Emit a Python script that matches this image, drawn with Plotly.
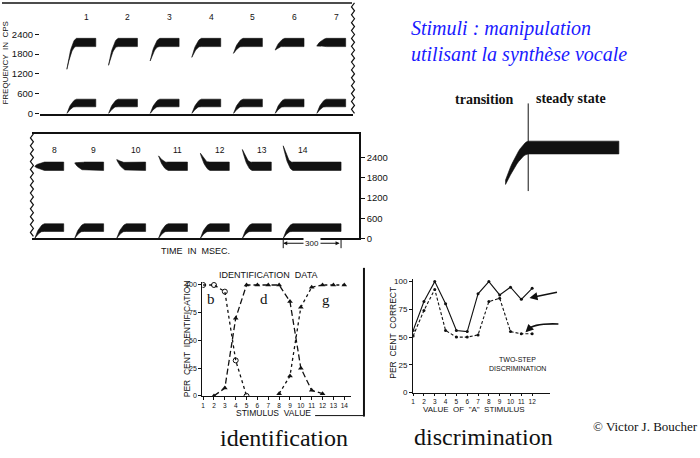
import plotly.graph_objects as go

W, H = 700, 458
INK = "#111111"


def PX(x):
    return x / W


def PY(y):
    return 1 - y / H


# ---------------- data ----------------
stim_numbers_top = [1, 2, 3, 4, 5, 6, 7]
stim_numbers_bottom = [8, 9, 10, 11, 12, 13, 14]
f2_onset_top_hz = [1340, 1460, 1590, 1700, 1820, 1920, 2040]
f2_onset_bottom_hz = [2150, 2250, 2350, 2460, 2540, 2650, 2760]
f2_steady_hz = 2150
f1_onset_hz = 0
f1_steady_hz = 320
onset_top_ms = [140, 356, 572, 788, 1004, 1220, 1436]
onset_bottom_ms = [15, 222, 440, 657, 874, 1092, 1304]
duration_top_ms = [150, 150, 150, 150, 150, 150, 150]
duration_bottom_ms = [150, 150, 150, 150, 150, 150, 300]
transition_ms = 50
freq_ticks = [0, 600, 1200, 1800, 2400]
freq_ticktext = ["0", "600", "1200", "1800", "2400"]

# schematic (transition / steady state)
schem_onset_hz = 1350
schem_steady_hz = 2150
schem_transition_ms = 50
schem_duration_ms = 250

# identification
ident_stimulus = [1, 2, 3, 4, 5, 6, 7, 8, 9, 10, 11, 12, 13, 14]
ident_b = [100, 100, 94, 32, 0, None, None, None, None, None, None, None, None, None]
ident_d = [None, 0, 7, 70, 100, 100, 100, 100, 85, 25, 5, 2, None, None]
ident_g = [None, None, None, None, None, None, None, 2, 18, 80, 98, 100, 100, 100]
pct_ticks = [0, 25, 50, 75, 100]

# discrimination
disc_a_stimulus = [1, 2, 3, 4, 5, 6, 7, 8, 9, 10, 11, 12]
disc_obtained = [56, 82, 100, 80, 56, 55, 89, 100, 88, 95, 84, 94]
disc_predicted = [51, 74, 93, 56, 50, 50, 52, 82, 85, 55, 53, 53]

# styling sizes (not data)
F2_HALF = 125
F1_HALF = 115


def band(t0, dur, f_on, f_ss, hw, T, tmin=0.0, pw=2.0, n=14):
    ts, up, lo = [], [], []
    for i in range(n + 1):
        s = i / n
        c = f_ss + (f_on - f_ss) * (1 - s) ** pw
        w = hw * (tmin + (1 - tmin) * s ** 0.6)
        ts.append(t0 + s * T)
        up.append(c + w)
        lo.append(c - w)
    xs = ts + [t0 + dur, t0 + dur] + ts[::-1] + [ts[0]]
    ys = up + [f_ss + hw, f_ss - hw] + lo[::-1] + [up[0]]
    return xs, ys


fig = go.Figure()


def add_poly(xs, ys, xa, ya):
    fig.add_trace(go.Scatter(x=xs, y=ys, mode="lines", fill="toself", fillcolor=INK,
                             line=dict(color=INK, width=0.6), xaxis=xa, yaxis=ya,
                             hoverinfo="skip", showlegend=False))


for t0, d, f2 in zip(onset_top_ms, duration_top_ms, f2_onset_top_hz):
    add_poly(*band(t0, d, f2, f2_steady_hz, F2_HALF, transition_ms), "x", "y")
    add_poly(*band(t0, d, f1_onset_hz, f1_steady_hz, F1_HALF, transition_ms), "x", "y")

for t0, d, f2 in zip(onset_bottom_ms, duration_bottom_ms, f2_onset_bottom_hz):
    add_poly(*band(t0, d, f2, f2_steady_hz, F2_HALF, transition_ms), "x2", "y2")
    add_poly(*band(t0, d, f1_onset_hz, f1_steady_hz, F1_HALF, transition_ms), "x2", "y2")

add_poly(*band(0, schem_duration_ms, schem_onset_hz, schem_steady_hz, 148,
               schem_transition_ms, tmin=0.35, pw=1.6), "x3", "y3")

# identification curves
fig.add_trace(go.Scatter(x=ident_stimulus, y=ident_b, mode="lines+markers", xaxis="x4", yaxis="y4",
                         line=dict(color=INK, width=1.3, dash="dot"),
                         marker=dict(symbol="circle-open", size=5, color=INK, line=dict(width=1)),
                         showlegend=False))
fig.add_trace(go.Scatter(x=ident_stimulus, y=ident_d, mode="lines+markers", xaxis="x4", yaxis="y4",
                         line=dict(color=INK, width=1.3, dash="6px,3px"),
                         marker=dict(symbol="triangle-up", size=5, color=INK),
                         showlegend=False))
fig.add_trace(go.Scatter(x=ident_stimulus, y=ident_g, mode="lines+markers", xaxis="x4", yaxis="y4",
                         line=dict(color=INK, width=1.3, dash="dot"),
                         marker=dict(symbol="triangle-up", size=5, color=INK),
                         showlegend=False))

# discrimination curves
fig.add_trace(go.Scatter(x=disc_a_stimulus, y=disc_obtained, mode="lines+markers", xaxis="x5", yaxis="y5",
                         line=dict(color=INK, width=1.1),
                         marker=dict(symbol="circle", size=3, color=INK), showlegend=False))
fig.add_trace(go.Scatter(x=disc_a_stimulus, y=disc_predicted, mode="lines+markers", xaxis="x5", yaxis="y5",
                         line=dict(color=INK, width=1.1, dash="3px,2px"),
                         marker=dict(symbol="circle", size=3, color=INK), showlegend=False))

common = dict(showgrid=False, zeroline=False, linecolor=INK, tickcolor=INK)
SANS = "Liberation Sans"

fig.update_layout(
    width=W, height=H, margin=dict(l=0, r=0, t=0, b=0),
    paper_bgcolor="white", plot_bgcolor="rgba(0,0,0,0)", showlegend=False,
    xaxis=dict(domain=[PX(38), PX(352)], range=[0, 1624], anchor="y", showline=True, linewidth=1.5,
               ticks="", showticklabels=False, **common),
    yaxis=dict(domain=[PY(113.3), PY(1)], range=[0, 3344], anchor="x", showline=False,
               ticks="outside", ticklen=4, tickvals=freq_ticks, ticktext=freq_ticktext,
               tickfont=dict(family=SANS, size=9.5, color=INK), **common),
    xaxis2=dict(domain=[PX(30), PX(358)], range=[0, 1697], anchor="y2", showline=True, mirror=True,
                linewidth=1.5, ticks="", showticklabels=False, **common),
    yaxis2=dict(domain=[PY(240), PY(134)], range=[0, 3114], anchor="x2", side="right", showline=True,
                linewidth=1.5, ticks="outside", ticklen=4, tickvals=freq_ticks, ticktext=freq_ticktext,
                tickfont=dict(family=SANS, size=9.5, color=INK), **common),
    xaxis3=dict(domain=[PX(495), PX(625)], range=[-22, 264], anchor="y3", visible=False),
    yaxis3=dict(domain=[PY(195), PY(95)], range=[1077, 3350], anchor="x3", visible=False),
    xaxis4=dict(domain=[PX(201), PX(350)], range=[0.936, 14.62], anchor="y4", showline=True, linewidth=1.3,
                ticks="outside", ticklen=3, tickvals=ident_stimulus,
                tickfont=dict(family=SANS, size=6.5, color=INK), **common),
    yaxis4=dict(domain=[PY(400), PY(284)], range=[0, 103], anchor="x4", showline=True, linewidth=1.3,
                ticks="outside", ticklen=3, tickvals=pct_ticks,
                tickfont=dict(family=SANS, size=7, color=INK), **common),
    xaxis5=dict(domain=[PX(412.3), PX(550)], range=[1, 13.69], anchor="y5", showline=True, linewidth=1.3,
                ticks="outside", ticklen=2, tickvals=disc_a_stimulus,
                tickfont=dict(family=SANS, size=6.5, color=INK), **common),
    yaxis5=dict(domain=[PY(396.7), PY(281.7)], range=[0, 102], anchor="x5", showline=True, linewidth=1.3,
                ticks="outside", ticklen=3, tickvals=pct_ticks,
                tickfont=dict(family=SANS, size=8, color=INK), **common),
)


def wavy(x0, y0, y1, amp=1.5, step=4):
    pts = []
    y = y0
    k = 0
    while y <= y1:
        off = amp if k % 2 == 0 else -amp
        pts.append((x0 + off, y))
        y += step
        k += 1
    return "M " + " L ".join(f"{PX(a):.5f},{PY(b):.5f}" for a, b in pts)


shapes = [
    dict(type="line", xref="paper", yref="paper", x0=PX(0), x1=PX(351), y0=PY(1), y1=PY(1),
         line=dict(color=INK, width=1.5)),
    dict(type="path", xref="paper", yref="paper", path=wavy(352, 1, 113), line=dict(color=INK, width=1.2)),
    dict(type="path", xref="paper", yref="paper", path=wavy(30, 134, 240), line=dict(color=INK, width=1.2)),
    dict(type="line", xref="x3", yref="paper", x0=schem_transition_ms, x1=schem_transition_ms,
         y0=PY(103), y1=PY(192), line=dict(color=INK, width=1)),
    dict(type="line", xref="paper", yref="paper", x0=PX(363), x1=PX(363), y0=PY(270), y1=PY(421),
         line=dict(color=INK, width=2)),
    dict(type="line", xref="paper", yref="paper", x0=PX(314), x1=PX(363), y0=PY(420), y1=PY(420),
         line=dict(color=INK, width=1)),
    dict(type="line", xref="x2", yref="paper", x0=onset_bottom_ms[-1], x1=onset_bottom_ms[-1],
         y0=PY(240), y1=PY(250), line=dict(color=INK, width=1)),
    dict(type="line", xref="x2", yref="paper", x0=onset_bottom_ms[-1] + duration_bottom_ms[-1],
         x1=onset_bottom_ms[-1] + duration_bottom_ms[-1], y0=PY(240), y1=PY(250),
         line=dict(color=INK, width=1)),
    dict(type="path", xref="paper", yref="paper",
         path=f"M {PX(558):.5f},{PY(327):.5f} Q {PX(533):.5f},{PY(326):.5f} {PX(527):.5f},{PY(333):.5f}",
         line=dict(color=INK, width=1.6)),
]
fig.update_layout(shapes=shapes)

ann = []


def txt(x, y, s, size, family=SANS, color=INK, xanchor="center", yanchor="middle", angle=0, **kw):
    ann.append(dict(x=PX(x), y=PY(y), xref="paper", yref="paper", text=s, showarrow=False,
                    font=dict(family=family, size=size, color=color), xanchor=xanchor, yanchor=yanchor,
                    textangle=angle, **kw))


for n, t0 in zip(stim_numbers_top, onset_top_ms):
    ann.append(dict(x=t0 + 100, y=PY(8), xref="x", yref="paper", text=str(n), showarrow=False,
                    font=dict(family=SANS, size=8.5, color=INK)))
for n, t0 in zip(stim_numbers_bottom, onset_bottom_ms):
    ann.append(dict(x=t0 + 100, y=PY(143), xref="x2", yref="paper", text=str(n), showarrow=False,
                    font=dict(family=SANS, size=8.5, color=INK)))

t14 = onset_bottom_ms[-1]
d14 = duration_bottom_ms[-1]
ann.append(dict(x=t14, y=PY(245), xref="x2", yref="paper", ax=t14 + d14, ay=0, axref="x2",
                ayref="pixel", showarrow=True, arrowside="end+start", arrowhead=2, arrowsize=0.8,
                arrowwidth=1, arrowcolor=INK, text="", standoff=0, startstandoff=0))
ann.append(dict(x=t14 + d14 / 2, y=PY(245), xref="x2", yref="paper", text="300", showarrow=False,
                bgcolor="white", font=dict(family=SANS, size=8, color=INK)))

txt(194, 253, "TIME  IN  MSEC.", 9)
txt(3.5, 62, "FREQUENCY  IN  CPS", 8, angle=-90)

txt(408, 27, "<i>Stimuli : manipulation</i>", 20, family="Liberation Serif", color="#1a1aff", xanchor="left")
txt(408, 53, "<i>utilisant la synthèse vocale</i>", 20, family="Liberation Serif", color="#1a1aff",
    xanchor="left")

txt(515, 99, "<b>transition</b>", 14, family="Liberation Serif", xanchor="right")
txt(534, 98, "<b>steady state</b>", 14, family="Liberation Serif", xanchor="left")

txt(267, 277, "IDENTIFICATION  DATA", 9)
txt(185, 342, "PER  CENT  IDENTIFICATION", 8.5, angle=-90)
txt(272, 417, "STIMULUS  VALUE", 8.5)
txt(210, 302, "b", 15, family="Liberation Serif")
txt(263, 302, "d", 15, family="Liberation Serif")
txt(325, 303, "g", 15, family="Liberation Serif")

txt(392, 336, "PER  CENT  CORRECT", 8.5, angle=-90)
txt(473, 414, "VALUE  OF  \"A\"  STIMULUS", 8)
txt(517, 363, "TWO-STEP", 7)
txt(517, 372, "DISCRIMINATION", 7)

ann.append(dict(x=PX(529), y=PY(300.5), xref="paper", yref="paper", ax=29, ay=-6, text="",
                showarrow=True, arrowhead=2, arrowsize=1, arrowwidth=1.6, arrowcolor=INK, standoff=0))
ann.append(dict(x=PX(525), y=PY(335.5), xref="paper", yref="paper", ax=4, ay=-4, text="",
                showarrow=True, arrowhead=2, arrowsize=1, arrowwidth=1.6, arrowcolor=INK, standoff=0))

txt(283, 443, "identification", 24, family="Liberation Serif")
txt(483, 442, "discrimination", 24, family="Liberation Serif")
txt(591, 431, "© Victor J. Boucher", 13, family="Liberation Serif", xanchor="left")

fig.update_layout(annotations=ann)
fig.write_html("out.html")
